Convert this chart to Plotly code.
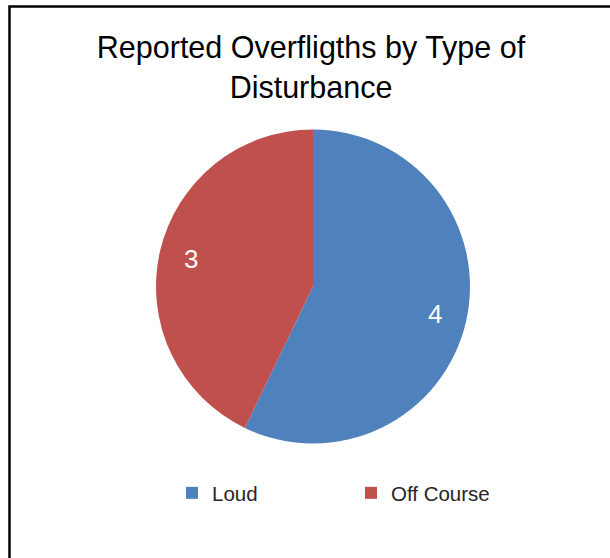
import math
import plotly.graph_objects as go

categories = ["Loud", "Off Course"]
values = [4, 3]
colors = ["#4F81BD", "#C0504D"]
title_text = "Reported Overfligths by Type of<br>Disturbance"

W, H = 610, 558
cx, cy, r = 313, 286.5, 157
label_frac = 0.80

fig = go.Figure(go.Pie(
    labels=categories,
    values=values,
    sort=False,
    direction="clockwise",
    rotation=0,
    marker=dict(colors=colors, line=dict(width=0)),
    textinfo="none",
    domain=dict(x=[(cx - r) / W, (cx + r) / W], y=[1 - (cy + r) / H, 1 - (cy - r) / H]),
    hoverinfo="label+value",
))

# data labels placed at each slice's mid-angle (computed from the values)
total = sum(values)
annotations = []
start = 0.0
for v in values:
    mid = start + v / total * 360 / 2
    start += v / total * 360
    ang = math.radians(mid)
    px = cx + label_frac * r * math.sin(ang)
    py = cy - label_frac * r * math.cos(ang)
    annotations.append(dict(
        x=px / W, y=1 - py / H, xref="paper", yref="paper",
        text=str(v), showarrow=False,
        font=dict(family="Liberation Sans, Arial, sans-serif", size=26, color="white"),
        xanchor="center", yanchor="middle",
    ))

fig.update_layout(
    width=W, height=H,
    margin=dict(l=0, r=0, t=0, b=0),
    paper_bgcolor="white",
    plot_bgcolor="white",
    font=dict(family="Liberation Sans, Arial, sans-serif", color="#000000"),
    title=dict(
        text=title_text,
        x=311 / W, xanchor="center",
        y=1 - 58 / H, yanchor="top",
        font=dict(size=30.5, color="#000000"),
    ),
    showlegend=True,
    legend=dict(
        orientation="h",
        x=172 / W, xanchor="left",
        y=1 - 493 / H, yanchor="middle",
        font=dict(size=20.5, color="#262626"),
        itemwidth=30,
        entrywidth=134,
        entrywidthmode="pixels",
        bgcolor="rgba(0,0,0,0)",
    ),
    annotations=annotations,
    shapes=[dict(
        type="rect", xref="paper", yref="paper",
        x0=9.5 / W, x1=1.02, y0=-0.02, y1=1 - 6.5 / H,
        line=dict(color="black", width=2.5),
        fillcolor="rgba(0,0,0,0)",
        layer="above",
    )],
)

fig.write_html("out.html", config={"displayModeBar": False},
               post_script="document.body.style.margin='0';")
